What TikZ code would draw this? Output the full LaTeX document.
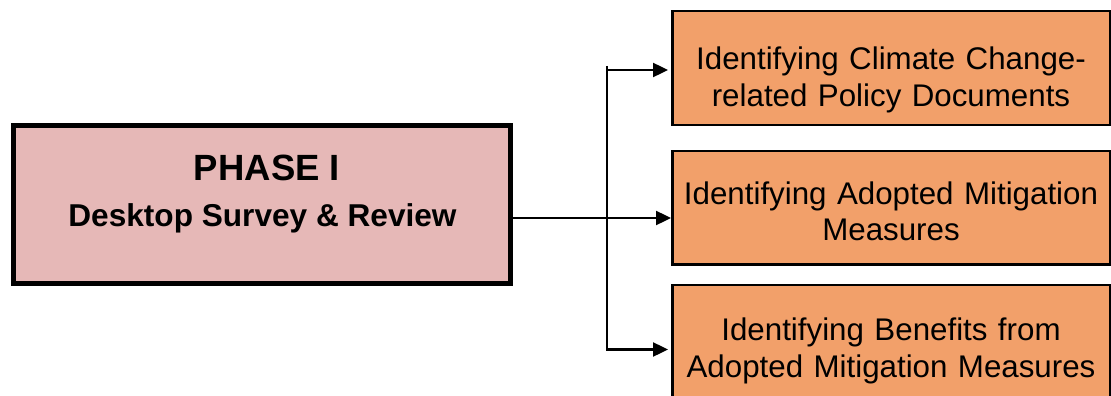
\documentclass[tikz,border=0pt]{standalone}
\usepackage{fontspec}
\setmainfont{Liberation Sans}
\usetikzlibrary{arrows.meta}
\definecolor{phasepink}{HTML}{E6B8B7}
\definecolor{taskorange}{HTML}{F2A06A}
\begin{document}
\begin{tikzpicture}[x=1pt,y=-1pt,
  phasebox/.style={draw=black, line width=5pt, fill=phasepink,
    minimum width=497pt, minimum height=158pt, inner sep=0pt},
  taskbox/.style={draw=black, line width=2.5pt, fill=taskorange,
    minimum width=437.5pt, minimum height=113.5pt, inner sep=0pt},
  tasktext/.style={text width=436pt, align=center, anchor=base, inner sep=0pt,
    font=\fontsize{31.3}{36.8}\selectfont},
  link/.style={line width=2.4pt},
  arrowlink/.style={link, -{Triangle[length=15pt,width=14pt]}}]
\clip (0,0) rectangle (1111,396);

% phase box
\node[phasebox] (lb) at (262,204.5) {};
\node[font=\bfseries\fontsize{36.5}{40}\selectfont, anchor=base, inner sep=0pt] (phtitle) at (267,180) {PHASE I};
\node[font=\bfseries\fontsize{31.6}{36}\selectfont, anchor=base, inner sep=0pt] (phsub) at (262.5,226.7) {Desktop Survey \& Review};

% task boxes
\node[taskbox] (t1) at (891,68) {};
\node[taskbox] (t2) at (891,207.5) {};
\node[taskbox] (t3) at (891,341.5) {};
\node[tasktext] (t1text) at (891,69.3) {Identifying Climate Change-\\related Policy Documents};
\node[tasktext] (t2text) at (891,204) {Identifying Adopted Mitigation\\Measures};
\node[tasktext] (t3text) at (891,340.7) {Identifying Benefits from\\Adopted Mitigation Measures};

% connectors
\coordinate (spinetop) at (607,66);
\coordinate (spinebot) at (607,351);
\coordinate (fork1) at (607,70);
\coordinate (fork2) at (607,218);
\coordinate (fork3) at (607,349.5);
\draw[link] (spinetop) -- (spinebot);
\draw[arrowlink, shorten >=3pt] (fork1) -- (fork1 -| t1.west);
\draw[arrowlink] (lb.east |- fork2) -- (fork2 -| t2.west);
\draw[arrowlink, shorten >=3pt] (fork3) -- (fork3 -| t3.west);
\end{tikzpicture}
\end{document}
